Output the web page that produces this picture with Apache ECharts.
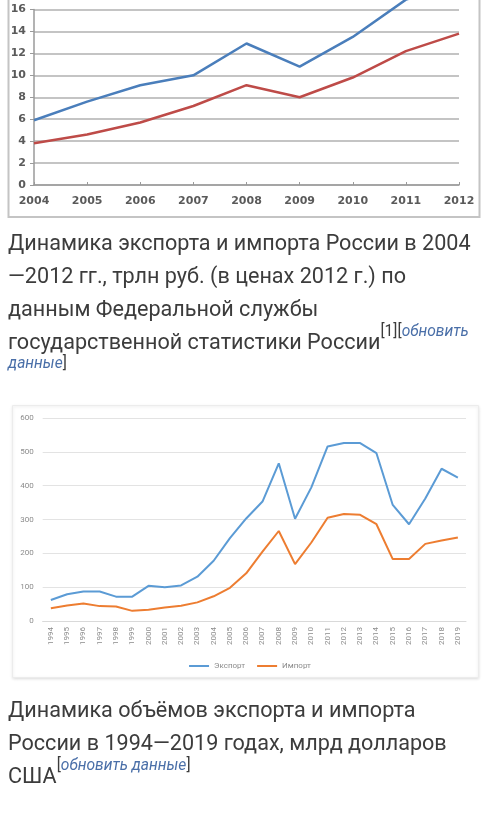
<!DOCTYPE html>
<html>
<head>
<meta charset="utf-8">
<script src="https://cdn.jsdelivr.net/npm/echarts@6/dist/echarts.min.js"></script>
<style>
html,body{margin:0;padding:0;background:#fff;}
#wrap{position:relative;width:500px;height:813px;overflow:hidden;}
#chart{position:absolute;left:0;top:0;width:500px;height:813px;}
.cap{position:absolute;left:8px;font-family:Roboto,"Noto Sans",sans-serif;font-size:21.6px;line-height:33px;color:#3c3c3c;white-space:nowrap;}
.sup{font-size:15.6px;vertical-align:top;line-height:15px;position:relative;}
.lnk{color:#4a6fa8;font-style:italic;}
</style>
</head>
<body>
<div id="wrap">
<div id="chart"></div>
<div class="cap" style="top:226px;">Динамика экспорта и импорта России в 2004<br>—2012 гг., трлн руб. (в ценах 2012 г.) по<br>данным Федеральной службы<br>государственной статистики России<span class="sup" style="top:-1px;">[1][<span class="lnk">обновить</span></span></div>
<div class="cap" style="top:356px;font-size:15.6px;line-height:15px;"><span class="lnk">данные</span>]</div>
<div class="cap" style="top:693px;">Динамика объёмов экспорта и импорта<br>России в 1994—2019 годах, млрд долларов<br>США<span class="sup" style="top:-1px;">[<span class="lnk">обновить данные</span>]</span></div>
</div>
<script>
// Chart 1: 2004–2012, трлн руб.
var years1 = ['2004','2005','2006','2007','2008','2009','2010','2011','2012'];
var export1 = [5.9, 7.6, 9.1, 10.0, 12.9, 10.8, 13.5, 16.9, 18.4];
var import1 = [3.8, 4.6, 5.7, 7.2, 9.1, 8.0, 9.8, 12.2, 13.8];
var ticks1 = [0, 2, 4, 6, 8, 10, 12, 14, 16];

// Chart 2: 1994–2019, млрд долларов США
var years2 = ['1994','1995','1996','1997','1998','1999','2000','2001','2002','2003','2004','2005','2006','2007','2008','2009','2010','2011','2012','2013','2014','2015','2016','2017','2018','2019'];
var export2 = [62, 79, 87, 87, 72, 72, 104, 100, 105, 131, 178, 245, 303, 353, 466, 302, 395, 516, 526, 526, 496, 343, 286, 362, 450, 424];
var import2 = [38, 46, 52, 44, 43, 30, 33, 40, 45, 55, 73, 98, 141, 205, 266, 168, 232, 305, 316, 314, 286, 183, 183, 228, 238, 247];
var ticks2 = [0, 100, 200, 300, 400, 500, 600];
var legendNames = ['Экспорт', 'Импорт'];

var chart = echarts.init(document.getElementById('chart'), null, {renderer: 'canvas'});
var option = {
  animation: false,
  backgroundColor: '#fff',
  graphic: [
    {type: 'rect', shape: {x: 8.5, y: -20, width: 471, height: 237}, style: {fill: 'none', stroke: '#c4c4c4', lineWidth: 2}, z: 0},
    {type: 'rect', shape: {x: 12.5, y: 405.5, width: 466, height: 272}, style: {fill: '#fff', stroke: '#ececec', lineWidth: 1, shadowBlur: 3, shadowColor: 'rgba(0,0,0,0.12)', shadowOffsetY: 1}, z: -1}
  ],
  legend: {
    data: legendNames,
    top: 657, left: 'center',
    itemWidth: 20, itemHeight: 2, itemGap: 12,
    icon: 'rect',
    textStyle: {fontSize: 8, color: '#8c8c8c', fontFamily: 'Roboto'}
  },
  grid: [
    {left: 34, right: 41, top: 9.5, bottom: 813 - 185},
    {left: 42.7, right: 34, top: 418, bottom: 813 - 621}
  ],
  xAxis: [
    {type: 'category', gridIndex: 0, data: years1, boundaryGap: false,
     axisLine: {lineStyle: {color: '#9a9a9a', width: 1.5}},
     axisTick: {show: true, inside: true, length: 3, lineStyle: {color: '#9a9a9a'}},
     axisLabel: {fontSize: 11, fontWeight: 'bold', color: '#5a5a5a', margin: 11, fontFamily: 'DejaVu Sans'}},
    {type: 'category', gridIndex: 1, data: years2, boundaryGap: true,
     axisLine: {lineStyle: {color: '#d9d9d9'}},
     axisTick: {show: false},
     axisLabel: {rotate: 90, fontSize: 8, color: '#8c8c8c', margin: 6, interval: 0, fontFamily: 'Roboto'}}
  ],
  yAxis: [
    {type: 'value', gridIndex: 0, min: 0, max: 16, interval: 2,
     axisLine: {show: true, lineStyle: {color: '#9a9a9a', width: 1.5}},
     axisTick: {show: true, length: 4, lineStyle: {color: '#9a9a9a'}},
     splitLine: {lineStyle: {color: '#b0b0b0', width: 1.5}},
     axisLabel: {fontSize: 11, fontWeight: 'bold', color: '#5a5a5a', margin: 8, fontFamily: 'DejaVu Sans',
       formatter: function (v) { return ticks1.indexOf(v) >= 0 ? String(v) : ''; }}},
    {type: 'value', gridIndex: 1, min: 0, max: 600, interval: 100,
     axisLine: {show: false}, axisTick: {show: false},
     splitLine: {lineStyle: {color: '#e3e3e3'}},
     axisLabel: {fontSize: 8, color: '#8c8c8c', margin: 9, fontFamily: 'Roboto',
       formatter: function (v) { return ticks2.indexOf(v) >= 0 ? String(v) : ''; }}}
  ],
  series: [
    {name: 'Экспорт, трлн руб.', type: 'line', xAxisIndex: 0, yAxisIndex: 0, data: export1,
     symbol: 'none', clip: false, lineStyle: {color: '#4a7ebb', width: 2.5}, itemStyle: {color: '#4a7ebb'}},
    {name: 'Импорт, трлн руб.', type: 'line', xAxisIndex: 0, yAxisIndex: 0, data: import1,
     symbol: 'none', lineStyle: {color: '#be4b48', width: 2.5}, itemStyle: {color: '#be4b48'}},
    {name: 'Экспорт', type: 'line', xAxisIndex: 1, yAxisIndex: 1, data: export2,
     symbol: 'none', lineStyle: {color: '#5b9bd5', width: 2}, itemStyle: {color: '#5b9bd5'}},
    {name: 'Импорт', type: 'line', xAxisIndex: 1, yAxisIndex: 1, data: import2,
     symbol: 'none', lineStyle: {color: '#ed7d31', width: 2}, itemStyle: {color: '#ed7d31'}}
  ]
};
chart.setOption(option);
</script>
</body>
</html>
